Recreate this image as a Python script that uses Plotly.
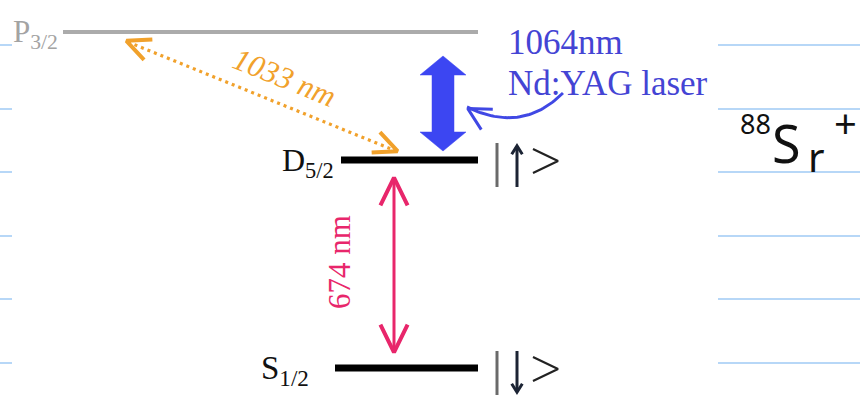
import numpy as np
import plotly.graph_objects as go

W, H = 860, 395

# Energy levels of 88Sr+ (diagram units: x to the right, y downward)
level_labels = ["P<sub>3/2</sub>", "D<sub>5/2</sub>", "S<sub>1/2</sub>"]
level_y = [32, 160, 368]
level_x0 = [63, 341, 335]
level_x1 = [478, 478, 478]
level_color = ["#ababab", "#000000", "#000000"]
level_width = [4, 7, 7]
level_label_color = ["#a3a3a3", "#111111", "#111111"]
level_label_size = [31, 32, 33]
level_label_gap = [3, 5, 24]

# Qubit states attached to D5/2 (up) and S1/2 (down)
ket_dirs = [-1, 1]
ket_y = [level_y[1], level_y[2]]

# Transitions
transition_1033 = "1033 nm"
transition_674 = "674 nm"
laser_lines = ["1064nm", "Nd:YAG laser"]

# Notebook ruling
ruling_y = [45, 109, 172, 236, 299, 363]

pink = "#e8266b"
orange = "#f1a12b"
blue = "#3c46f2"
blue_text = "#4444d4"
serif = "Liberation Serif"

fig = go.Figure()


def add_line(xs, ys, color, width, dash=None, fill=None):
    fig.add_trace(go.Scatter(
        x=list(xs), y=list(ys), mode="lines",
        line=dict(color=color, width=width, dash=dash),
        fill=fill, fillcolor=color if fill else None,
        hoverinfo="skip", showlegend=False))


def chevron(tip, direction, length, half_angle_deg, width):
    d = np.asarray(direction, float)
    d /= np.linalg.norm(d)
    a = np.radians(half_angle_deg)
    # pull the vertex back so the mitred corner lands on the tip
    t = np.asarray(tip, float) - d * (width / 2) / np.sin(a)
    back = -d

    def rot(v, ang):
        c, s = np.cos(ang), np.sin(ang)
        return np.array([v[0] * c - v[1] * s, v[0] * s + v[1] * c])

    p1 = t + length * rot(back, a)
    p2 = t + length * rot(back, -a)
    return [p1[0], t[0], p2[0]], [p1[1], t[1], p2[1]]


# ruling lines on both margins
for y in ruling_y:
    add_line([0, 12], [y, y], "#9fcaf5", 1.5)
    add_line([718, W], [y, y], "#9fcaf5", 1.5)

# energy levels
for lbl, y, x0, x1, c, w, lc, ls, gap in zip(level_labels, level_y, level_x0, level_x1,
                                             level_color, level_width,
                                             level_label_color, level_label_size,
                                             level_label_gap):
    add_line([x0, x1], [y, y], c, w)
    fig.add_annotation(x=x0 - gap, y=y + 2, text=lbl, showarrow=False,
                       xanchor="right", yanchor="middle",
                       font=dict(family=serif, size=ls, color=lc))

# 1033 nm: dotted double arrow between P3/2 and D5/2
o_start = (122, 39)
o_end = (402, 153)
add_line([o_start[0] + 6, o_end[0] - 6], [o_start[1] + 3, o_end[1] - 2], orange, 3.2, dash="3px,4px")
d = np.subtract(o_end, o_start)
for tip, direction in [(o_end, d), (o_start, -d)]:
    cx, cy = chevron(tip, direction, 26, 25, 4)
    add_line(cx, cy, orange, 4)
fig.add_annotation(x=285, y=77, text="<i>" + transition_1033 + "</i>", showarrow=False,
                   textangle=22, font=dict(family=serif, size=31, color=orange))

# 674 nm: S1/2 <-> D5/2
p_x = 394
p_top, p_bot = 173, 357
add_line([p_x, p_x], [p_top + 4, p_bot - 4], pink, 3)
for tip, direction in [((p_x, p_top), (0, -1)), ((p_x, p_bot), (0, 1))]:
    cx, cy = chevron(tip, direction, 31, 26, 4)
    add_line(cx, cy, pink, 4)
fig.add_annotation(x=339, y=262, text=transition_674, showarrow=False, textangle=-90,
                   font=dict(family=serif, size=31, color=pink))

# 1064 nm laser: thick double arrow above D5/2
b_x, b_top, b_bot = 443, 56, 151
head_half, head_len, shaft_half = 23, 19, 11
bx = [b_x, b_x + head_half, b_x + shaft_half, b_x + shaft_half, b_x + head_half, b_x,
      b_x - head_half, b_x - shaft_half, b_x - shaft_half, b_x - head_half, b_x]
by = [b_top, b_top + head_len, b_top + head_len, b_bot - head_len, b_bot - head_len, b_bot,
      b_bot - head_len, b_bot - head_len, b_top + head_len, b_top + head_len, b_top]
add_line(bx, by, blue, 0.5, fill="toself")

for i, txt in enumerate(laser_lines):
    fig.add_annotation(x=506, y=42 + 41 * i, text=txt, showarrow=False,
                       xanchor="left", yanchor="middle",
                       font=dict(family=serif, size=35, color=blue_text))

# curved pointer from the laser label to the arrow
c0 = np.array([563, 93.0])
c1 = np.array([522, 134.0])
c2 = np.array([467, 107.0])
t = np.linspace(0, 1, 40)[:, None]
curve = (1 - t) ** 2 * c0 + 2 * (1 - t) * t * c1 + t ** 2 * c2
add_line(curve[:, 0], curve[:, 1], "#4048e4", 3)
cx, cy = chevron((465, 107), c2 - c1 + np.array([0, -4]), 25, 28, 3)
add_line(cx, cy, "#4048e4", 3)

# spin kets |up> and |down>
for y, s in zip(ket_y, ket_dirs):
    add_line([497, 497], [y - 17, y + 27], "#6a6a6a", 3)
    if s < 0:
        a0, a1 = y + 27, y - 17
    else:
        a0, a1 = y - 17, y + 27
    add_line([517, 517], [a0, a1 - 3 * np.sign(a1 - a0)], "#1c2434", 3)
    cx, cy = chevron((517, a1), (0, np.sign(a1 - a0)), 10, 32, 3)
    add_line(cx, cy, "#1c2434", 3)
    add_line([533, 558, 533], [y - 11, y + 1, y + 13], "#222222", 2.2)

# handwritten isotope note
hand = "Noto Sans"
fig.add_annotation(x=755, y=123, text="88", showarrow=False,
                   font=dict(family=hand, size=27, color="#111111"))
fig.add_annotation(x=786, y=142, text="S", showarrow=False,
                   font=dict(family=hand, size=52, color="#111111"))
fig.add_annotation(x=816, y=156, text="r", showarrow=False,
                   font=dict(family=hand, size=40, color="#111111"))
fig.add_annotation(x=845, y=122, text="+", showarrow=False,
                   font=dict(family=hand, size=40, color="#111111"))

fig.update_layout(
    width=W, height=H,
    margin=dict(l=0, r=0, t=0, b=0),
    paper_bgcolor="white", plot_bgcolor="white",
    showlegend=False,
    xaxis=dict(range=[0, W], visible=False, fixedrange=True),
    yaxis=dict(range=[H, 0], visible=False, fixedrange=True),
)

fig.write_html("out.html")
